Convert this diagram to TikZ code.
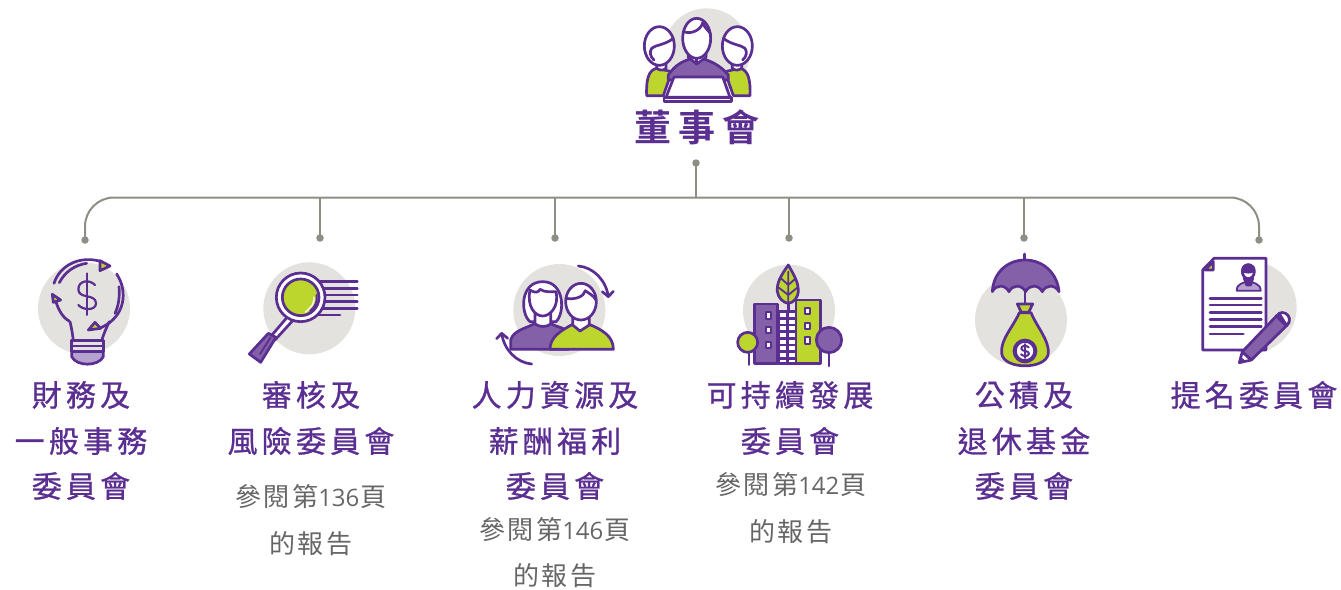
\documentclass[tikz,border=0pt]{standalone}
\usepackage{fontspec}
\newfontfamily\cjkt{Noto Sans CJK TC}[BoldFont=Noto Sans CJK TC Bold,LetterSpace=19]
\newfontfamily\cjkh{Noto Sans CJK TC}[LetterSpace=14,FakeBold=0.9]
\newfontfamily\cjkn{Noto Sans CJK TC}[LetterSpace=9]
\newfontfamily\osans{Open Sans}
\definecolor{pdark}{HTML}{5B2E91}
\definecolor{pmid}{HTML}{8360A8}
\definecolor{plight}{HTML}{B5A2CF}
\definecolor{lime}{HTML}{BCD62E}
\definecolor{disc}{HTML}{E3E2DE}
\definecolor{connect}{HTML}{8E8E84}
\definecolor{grey}{HTML}{666666}
\tikzset{
  title/.style={text=pdark,inner sep=0pt,font=\cjkt\bfseries\fontsize{37}{37}\selectfont},
  head/.style={text=pdark,inner sep=0pt,font=\cjkh\fontsize{30}{30}\selectfont},
  note/.style={text=grey,inner sep=0pt,font=\cjkn\fontsize{26}{26}\selectfont},
  dot/.style={circle,fill=connect,inner sep=0pt,minimum size=7.5pt},
  wire/.style={draw=connect,line width=2pt},
  ink/.style={draw=pdark,line width=2.7pt,line join=round,line cap=round},
  thin ink/.style={draw=pdark,line width=1.8pt,line join=round,line cap=round},
  zA/.style={shift={(600,0)},x=0.33333pt,y=-0.33333pt},
  zB/.style={shift={(20,250)},x=0.33333pt,y=-0.33333pt},
  zC/.style={shift={(480,250)},x=0.33333pt,y=-0.33333pt},
  zD/.style={shift={(960,250)},x=0.33333pt,y=-0.33333pt},
}
\newcommand{\refnote}[1]{{\cjkn 參閱第}{\osans\fontsize{24}{24}\selectfont #1}{\cjkn\kern1pt 頁}}
\begin{document}
\begin{tikzpicture}[x=1pt,y=-1pt]
\useasboundingbox (0,0) rectangle (1341,589);
% ---------- icons
% board
\begin{scope}[zA]
\fill[disc] (320,155) circle (130);
% left
\path[ink,fill=lime] (140,287) .. controls (138,240) and (145,210) .. (170,205) -- (215,215) -- (190,287) -- cycle;
\path[ink,fill=white] (170,175) -- (170,205) .. controls (180,212) and (190,212) .. (198,205) -- (198,175) -- cycle;
\path[ink,fill=white] (178,138) ellipse [x radius=45,y radius=58];
\path[ink] (220,115) .. controls (195,135) and (165,135) .. (155,145) .. controls (148,155) and (150,170) .. (162,180);
% right
\path[ink,fill=lime] (450,287) .. controls (452,240) and (445,210) .. (420,205) -- (375,215) -- (400,287) -- cycle;
\path[ink,fill=white] (397,175) -- (397,205) .. controls (405,212) and (415,212) .. (425,205) -- (425,175) -- cycle;
\path[ink,fill=white] (412,138) ellipse [x radius=45,y radius=58];
\path[ink] (370,115) .. controls (395,135) and (425,135) .. (435,145) .. controls (442,155) and (440,170) .. (428,180);
% centre
\path[ink,fill=pmid] (205,225) .. controls (225,195) and (250,180) .. (290,172) .. controls (330,180) and (360,195) .. (385,225) -- (385,240) -- (205,240) -- cycle;
\path[ink,fill=white] (265,150) -- (265,172) -- (290,192) -- (318,172) -- (318,150) -- cycle;
\path[ink] (290,178) -- (290,192);
\path[ink,fill=white] (290,115) ellipse [x radius=42,y radius=60];
\path[ink] (250,95) .. controls (280,105) and (305,85) .. (308,68) .. controls (315,85) and (325,92) .. (331,100);
% table
\path[ink,fill=white] (222,231) -- (368,231) -- (390,292) -- (198,292) -- cycle;
\path[ink,fill=white] (192,292) rectangle (395,305);
\end{scope}
% bulb
\begin{scope}[zB]
\fill[disc] (192,175) circle (138);
\path[ink,fill=plight] (155,272) -- (250,272) -- (250,320) .. controls (235,350) and (170,350) .. (155,320) -- cycle;
\path[ink,fill=disc] (155,272) rectangle (250,305);
\path[thin ink] (155,288) -- (250,288);
\path[ink] (150,215) .. controls (155,235) and (158,255) .. (160,272);
\path[ink] (268,215) .. controls (258,235) and (250,255) .. (245,272);
\path[ink] (102,100) .. controls (120,45) and (180,15) .. (245,35);
\path[ink] (118,98) .. controls (135,65) and (165,45) .. (200,40);
\path[ink,fill=lime] (240,32) -- (270,48) -- (240,62) -- cycle;
\path[ink] (290,72) .. controls (325,125) and (315,200) .. (245,232);
\path[ink] (297,110) .. controls (300,140) and (295,170) .. (285,190);
\path[ink,fill=lime] (205,240) -- (225,217) -- (242,235) -- cycle;
\path[ink] (108,155) .. controls (115,180) and (130,205) .. (148,213);
\path[ink,fill=lime] (97,133) -- (122,150) -- (100,157) -- cycle;
\path[ink,line width=2pt] (200,70) -- (200,195);
\path[ink,line width=2.2pt] (225,105) .. controls (210,88) and (175,90) .. (175,118) .. controls (175,148) and (228,130) .. (228,160) .. controls (228,182) and (190,182) .. (175,165);
\end{scope}
% magnifier
\begin{scope}[zB]
\fill[disc] (868,175) circle (138);
\foreach \yy in {95,115,135,155,175}{\path[ink] (895,\yy) -- (1012,\yy);}
\path[ink] (895,195) -- (960,195);
\path[ink,fill=white] (803,200) -- (750,262) -- (765,270) -- (818,212) -- cycle;
\path[ink,fill=pmid] (745,250) -- (768,262) -- (722,337) -- (688,312) -- cycle;
\path[thin ink] (752,262) -- (720,312);
\path[ink,fill=white] (842,142) circle (73);
\path[ink,fill=lime] (842,142) circle (55);
\path[ink,line width=2pt] (890,135) .. controls (893,155) and (885,172) .. (870,183);
\path[draw=white,line width=1.3pt] (882,140) .. controls (884,155) and (878,170) .. (855,187);
\end{scope}
% people
\begin{scope}[zC]
\fill[disc] (238,180) circle (138);
\path[ink,fill=white] (150,215) .. controls (120,190) and (120,95) .. (188,95) .. controls (255,95) and (255,190) .. (228,215) -- cycle;
\path[ink,fill=pmid] (92,298) -- (92,270) .. controls (100,240) and (140,235) .. (165,220) -- (212,220) .. controls (235,235) and (255,230) .. (265,250) -- (265,298) -- cycle;
\path[ink,fill=white] (165,190) -- (165,222) .. controls (180,232) and (200,232) .. (212,222) -- (212,190) -- cycle;
\path[ink,fill=white] (150,120) .. controls (165,130) and (175,128) .. (180,118) .. controls (195,128) and (215,125) .. (228,125) .. controls (238,170) and (210,198) .. (188,198) .. controls (165,198) and (140,170) .. (150,120) -- cycle;
\path[ink,fill=lime] (210,298) .. controls (210,265) and (235,245) .. (280,222) -- (325,222) .. controls (370,240) and (400,260) .. (400,298) -- cycle;
\path[ink,fill=white] (278,190) -- (278,225) -- (300,243) -- (328,225) -- (328,190) -- cycle;
\path[ink,fill=white] (303,155) ellipse [x radius=46,y radius=55];
\path[ink] (258,145) .. controls (285,150) and (312,140) .. (316,122) .. controls (325,130) and (340,135) .. (348,150);
\path[ink] (295,48) .. controls (340,52) and (378,90) .. (385,140);
\path[ink] (367,125) -- (385,140) -- (400,124);
\path[ink] (155,342) .. controls (110,338) and (72,300) .. (65,250);
\path[ink] (50,266) -- (65,250) -- (83,265);
\end{scope}
% city
\begin{scope}[zC]
\fill[disc] (927,182) circle (138);
\path[ink] (925,150) -- (925,190);
\path[ink,fill=white] (895,185) rectangle (950,341);
\foreach \yy in {205,225,245,265,285,305,325}{\path[ink] (895,\yy) -- (950,\yy);}
\path[ink] (922,185) -- (922,341);
\path[ink,fill=pmid] (823,162) rectangle (893,341);
\path[ink,fill=lime] (948,150) rectangle (1022,341);
\foreach \px/\py in {865/196,865/240,865/285,982/183,982/228,982/272}{\path[thin ink,line width=2.2pt,fill=white] (\px-8,\py-10) rectangle (\px+8,\py+10);}
\path[ink,fill=lime] (925,45) .. controls (900,80) and (890,100) .. (892,125) .. controls (895,145) and (910,158) .. (925,160) .. controls (940,158) and (955,145) .. (955,120) .. controls (955,100) and (945,80) .. (925,45) -- cycle;
\path[thin ink] (925,65) -- (925,160) (925,105) -- (903,85) (925,105) -- (947,85) (925,135) -- (895,112) (925,135) -- (953,112);
\path[ink] (807,300) -- (807,344);
\path[ink,fill=lime] (803,277) circle (30);
\path[ink] (1047,300) -- (1047,348);
\path[ink,fill=pmid] (1047,270) circle (38);
\end{scope}
% umbrella
\begin{scope}[zD]
\fill[disc] (183,210) circle (138);
\path[ink] (193,12) -- (193,32);
\path[ink] (195,125) -- (195,165);
\path[ink,fill=pmid] (97,125) .. controls (100,65) and (145,30) .. (195,30) .. controls (250,30) and (292,70) .. (297,125) .. controls (285,103) and (258,103) .. (247,125) .. controls (235,103) and (208,103) .. (197,125) .. controls (185,103) and (158,103) .. (147,125) .. controls (135,103) and (108,103) .. (97,125) -- cycle;
\path[ink,fill=lime] (178,188) .. controls (160,230) and (120,270) .. (125,310) .. controls (130,360) and (260,360) .. (265,310) .. controls (268,270) and (230,230) .. (213,188) -- cycle;
\path[ink,fill=lime] (172,162) -- (218,162) -- (206,187) -- (184,187) -- cycle;
\path[ink,fill=white,line width=4pt] (195,303) circle (31);
\path[thin ink] (195,282) -- (195,324);
\path[thin ink,line width=2pt] (206,292) .. controls (198,284) and (183,287) .. (184,296) .. controls (185,306) and (207,300) .. (207,311) .. controls (206,320) and (190,320) .. (183,313);
\end{scope}
% document
\begin{scope}[zD]
\fill[disc] (872,172) circle (138);
\path[ink,fill=white] (728,60) -- (762,25) -- (918,25) -- (918,300) -- (728,300) -- cycle;
\path[ink,fill=lime] (735,60) -- (760,60) -- (760,35) -- cycle;
\path[thin ink,fill=plight] (830,122) .. controls (830,100) and (850,100) .. (865,92) .. controls (880,100) and (902,100) .. (902,122) -- cycle;
\path[ink,fill=pdark] (853,85) -- (878,85) -- (872,105) -- (860,105) -- cycle;
\path[ink,fill=white] (865,65) ellipse [x radius=18,y radius=21];
\path[ink,fill=pdark] (848,62) .. controls (855,68) and (875,68) .. (882,62) -- (880,52) .. controls (870,42) and (858,42) .. (850,52) -- cycle;
\foreach \yy in {145,165,187,208,230}{\path[ink] (750,\yy) -- (904,\yy);}
\path[ink] (750,252) -- (850,252);
\path[ink,fill=white] (838,338) -- (847,305) -- (874,330) -- cycle;
\path[ink,fill=pmid] (847,305) -- (950,197) .. controls (965,182) and (985,190) .. (988,205) .. controls (990,215) and (985,222) .. (980,227) -- (874,330) -- cycle;
\path[ink] (950,197) .. controls (955,205) and (970,220) .. (980,227);
\path[ink,fill=white] (957,190) .. controls (970,183) and (985,192) .. (988,205) .. controls (990,213) and (986,220) .. (980,227) -- cycle;
\path[ink,fill=pdark,line width=1pt] (838,338) -- (842,322) -- (853,332) -- cycle;
\end{scope}
% ---------- text
\node[title] (board) at (697,127) {董事會};
\node[head] (t1a) at (81,395) {財務及};
\node[head] (t1b) at (81,441) {一般事務};
\node[head] (t1c) at (81,486) {委員會};
\node[head] (t2a) at (311,395) {審核及};
\node[head] (t2b) at (311,441) {風險委員會};
\node[note] (n2a) at (311,497) {\refnote{136}};
\node[note] (n2b) at (311,544) {的報告};
\node[head] (t3a) at (555,395) {人力資源及};
\node[head] (t3b) at (555,441) {薪酬福利};
\node[head] (t3c) at (555,486) {委員會};
\node[note] (n3a) at (555,530) {\refnote{146}};
\node[note] (n3b) at (555,576) {的報告};
\node[head] (t4a) at (790,395) {可持續發展};
\node[head] (t4b) at (790,441) {委員會};
\node[note] (n4a) at (791,485) {\refnote{142}};
\node[note] (n4b) at (791,532) {的報告};
\node[head] (t5a) at (1024,395) {公積及};
\node[head] (t5b) at (1024,441) {退休基金};
\node[head] (t5c) at (1024,486) {委員會};
\node[head] (t6a) at (1254,395) {提名委員會};
% ---------- connectors
\node[dot] (root) at (696,163) {};
\node[dot] (d1) at (85,240) {};
\node[dot] (d2) at (320,238) {};
\node[dot] (d3) at (555,238) {};
\node[dot] (d4) at (789,238) {};
\node[dot] (d5) at (1024,238) {};
\node[dot] (d6) at (1259,240) {};
\coordinate (bus) at (696,197.5);
\draw[wire,rounded corners=29pt] (d1.center) -- (d1.center |- bus) -- (d6.center |- bus) -- (d6.center);
\draw[wire] (root.center) -- (bus);
\foreach \n in {d2,d3,d4,d5}{\draw[wire] (\n.center) -- (\n.center |- bus);}
\end{tikzpicture}
\end{document}
